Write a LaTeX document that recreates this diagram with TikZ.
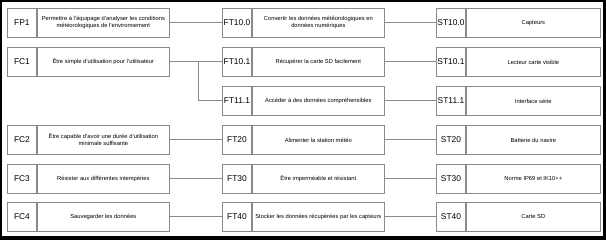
\documentclass[tikz,border=0pt]{standalone}
\usepackage{fontspec}
\setmainfont{Liberation Sans}
\usepackage{tikz}
\usepackage{xcolor}
\usetikzlibrary{positioning}
\definecolor{boxgray}{HTML}{8A8A8A}
\tikzset{
    code-box/.style = {draw=boxgray, fill=white, line width=0.9pt, rectangle, minimum width=29pt, minimum height=29pt, inner sep=0pt, anchor=north west, font=\fontsize{8.4}{10}\selectfont},
    text-box/.style = {draw=boxgray, fill=white, line width=0.9pt, rectangle, minimum width=#1, minimum height=29pt, inner sep=1pt, align=center, font=\fontsize{5.8}{7}\selectfont},
    text-box/.default = 132pt,
    link/.style = {draw=boxgray, line width=0.9pt},
}

\begin{document}
\begin{tikzpicture}[x=1pt, y=-1pt]
% frame
\fill[black] (0,0) rectangle (606,240);
\fill[white] (2,2) rectangle (603,236);

% left column
\node[code-box] (fp1) at (7,8) {FP1};
\node[text-box, right=0pt of fp1] (fp1-txt) {Permettre à l'équipage d'analyser les conditions\\météorologiques de l'environnement};
\node[code-box] (fc1) at (7,47) {FC1};
\node[text-box, right=0pt of fc1] (fc1-txt) {Être simple d'utilisation pour l'utilisateur};
\node[code-box] (fc2) at (7,125) {FC2};
\node[text-box, right=0pt of fc2] (fc2-txt) {Être capable d'avoir une durée d'utilisation\\minimale suffisante};
\node[code-box] (fc3) at (7,164) {FC3};
\node[text-box, right=0pt of fc3] (fc3-txt) {Résister aux différentes intempéries};
\node[code-box] (fc4) at (7,202) {FC4};
\node[text-box, right=0pt of fc4] (fc4-txt) {Sauvegarder les données};

% middle column
\node[code-box] (ft100) at (222,8) {FT10.0};
\node[text-box, right=0pt of ft100] (ft100-txt) {Convertir les données météorologiques en\\données numériques};
\node[code-box] (ft101) at (222,47) {FT10.1};
\node[text-box, right=0pt of ft101] (ft101-txt) {Récupérer la carte SD facilement};
\node[code-box] (ft111) at (222,86) {FT11.1};
\node[text-box, right=0pt of ft111] (ft111-txt) {Accéder à des données compréhensibles};
\node[code-box] (ft20) at (222,125) {FT20};
\node[text-box, right=0pt of ft20] (ft20-txt) {Alimenter la station météo};
\node[code-box] (ft30) at (222,164) {FT30};
\node[text-box, right=0pt of ft30] (ft30-txt) {Être imperméable et résistant};
\node[code-box] (ft40) at (222,202) {FT40};
\node[text-box, right=0pt of ft40] (ft40-txt) {Stocker les données récupérées par les capteurs};

% right column
\node[code-box] (st100) at (436,8) {ST10.0};
\node[text-box=134pt, right=0pt of st100] (st100-txt) {Capteurs};
\node[code-box] (st101) at (436,47) {ST10.1};
\node[text-box=134pt, right=0pt of st101] (st101-txt) {Lecteur carte visible};
\node[code-box] (st111) at (436,86) {ST11.1};
\node[text-box=134pt, right=0pt of st111] (st111-txt) {Interface série};
\node[code-box] (st20) at (436,125) {ST20};
\node[text-box=134pt, right=0pt of st20] (st20-txt) {Batterie du navire};
\node[code-box] (st30) at (436,164) {ST30};
\node[text-box=134pt, right=0pt of st30] (st30-txt) {Norme IP69 et IK10++};
\node[code-box] (st40) at (436,202) {ST40};
\node[text-box=134pt, right=0pt of st40] (st40-txt) {Carte SD};

% links
\draw[link] (fp1-txt) -- (ft100);
\draw[link] (fc1-txt) -- (ft101);
\coordinate[right=29pt of fc1-txt.east] (fc1-split);
\draw[link] (fc1-split) |- (ft111);
\draw[link] (fc2-txt) -- (ft20);
\draw[link] (fc3-txt) -- (ft30);
\draw[link] (fc4-txt) -- (ft40);
\draw[link] (ft100-txt) -- (st100);
\draw[link] (ft101-txt) -- (st101);
\draw[link] (ft111-txt) -- (st111);
\draw[link] (ft20-txt) -- (st20);
\draw[link] (ft30-txt) -- (st30);
\draw[link] (ft40-txt) -- (st40);
\end{tikzpicture}
\end{document}
